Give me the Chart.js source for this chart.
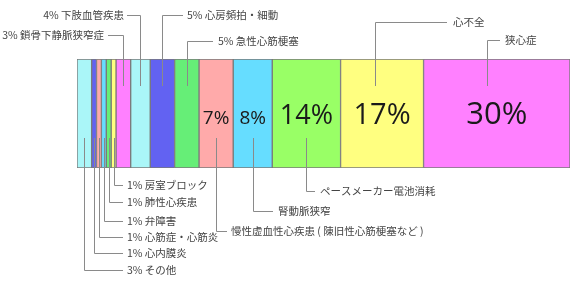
<!DOCTYPE html>
<html>
<head>
<meta charset="utf-8">
<script src="https://cdn.jsdelivr.net/npm/chart.js@4/dist/chart.umd.min.js"></script>
<style>
  html, body { margin: 0; padding: 0; background: #fff; }
  #wrap { width: 576px; height: 283px; }
</style>
</head>
<body>
<div id="wrap"><canvas id="chart"></canvas></div>
<script>
// segments, left to right
var categories = ['その他', '心内膜炎', '心筋症・心筋炎', '弁障害', '肺性心疾患', '房室ブロック',
  '鎖骨下静脈狭窄症', '下肢血管疾患', '心房頻拍・細動', '急性心筋梗塞',
  '慢性虚血性心疾患（陳旧性心筋梗塞など）', '腎動脈狭窄', 'ペースメーカー電池消耗', '心不全', '狭心症'];
var values = [3, 1, 1, 1, 1, 1, 3, 4, 5, 5, 7, 8, 14, 17, 30];
var calloutTexts = ['3% その他', '1% 心内膜炎', '1% 心筋症・心筋炎', '1% 弁障害', '1% 肺性心疾患', '1% 房室ブロック',
  '3% 鎖骨下静脈狭窄症', '4% 下肢血管疾患', '5% 心房頻拍・細動', '5% 急性心筋梗塞',
  '慢性虚血性心疾患 ( 陳旧性心筋梗塞など )', '腎動脈狭窄', 'ペースメーカー電池消耗', '心不全', '狭心症'];
var colors = ['#aaf6f8', '#6262f2', '#ffaaaa', '#66ddff', '#66ee77', '#ffff80',
  '#ff80ff', '#aaf6f8', '#6262f2', '#66ee77', '#ffaaaa', '#66ddff', '#99ff66', '#ffff80', '#ff80ff'];

// where each callout text sits and how the leader line runs
var callouts = [
  { side: 'bottom', ty: 270, tx: 127, align: 'left', le: 123 },
  { side: 'bottom', ty: 253, tx: 127, align: 'left', le: 123 },
  { side: 'bottom', ty: 237, tx: 127, align: 'left', le: 123 },
  { side: 'bottom', ty: 221, tx: 127, align: 'left', le: 123 },
  { side: 'bottom', ty: 202, tx: 127, align: 'left', le: 123 },
  { side: 'bottom', ty: 185, tx: 127, align: 'left', le: 123 },
  { side: 'top', ty: 35, tx: 104, align: 'right', le: 108 },
  { side: 'top', ty: 15, tx: 124, align: 'right', le: 127 },
  { side: 'top', ty: 15, tx: 187, align: 'left', le: 183 },
  { side: 'top', ty: 41, tx: 218, align: 'left', le: 213 },
  { side: 'bottom', ty: 231, tx: 231, align: 'left', le: 227 },
  { side: 'bottom', ty: 211, tx: 278, align: 'left', le: 273 },
  { side: 'bottom', ty: 191, tx: 320, align: 'left', le: 315 },
  { side: 'top', ty: 22, tx: 453, align: 'left', le: 447, frac: 0.42 },
  { side: 'top', ty: 40, tx: 505, align: 'left', le: 500, frac: 0.43 }
];
var innerSizes = { 10: 19, 11: 19, 12: 27, 13: 29, 14: 31 };

var datasets = values.map(function(v, i) {
  return {
    label: categories[i],
    data: [v],
    backgroundColor: colors[i],
    borderColor: '#7a7a7a',
    borderWidth: 1,
    borderSkipped: false,
    categoryPercentage: 1,
    barPercentage: 1
  };
});

var calloutPlugin = {
  id: 'callouts',
  afterDatasetsDraw: function(chart) {
    var ctx = chart.ctx;
    var area = chart.chartArea;
    ctx.save();
    chart.data.datasets.forEach(function(ds, i) {
      var bar = chart.getDatasetMeta(i).data[0];
      var x0 = Math.min(bar.base, bar.x), x1 = Math.max(bar.base, bar.x);
      var c = callouts[i];
      var vx = Math.round(x0 + (x1 - x0) * (c.frac || 0.5)) + 0.5;
      var ty = Math.round(c.ty) + 0.5;

      ctx.strokeStyle = '#8a8a8a';
      ctx.lineWidth = 1;
      ctx.beginPath();
      if (c.side === 'top') {
        ctx.moveTo(c.le, ty);
        ctx.lineTo(vx, ty);
        ctx.lineTo(vx, area.top + 27);
      } else {
        ctx.moveTo(vx, area.bottom - 30);
        ctx.lineTo(vx, ty);
        ctx.lineTo(c.le, ty);
      }
      ctx.stroke();

      ctx.fillStyle = '#444';
      ctx.font = '10.5px "Noto Sans CJK JP"';
      ctx.textAlign = c.align;
      ctx.textBaseline = 'middle';
      ctx.fillText(calloutTexts[i], c.tx, c.ty);

      if (innerSizes[i]) {
        ctx.fillStyle = '#1a1a1a';
        ctx.font = innerSizes[i] + 'px "Open Sans"';
        ctx.textAlign = 'center';
        ctx.textBaseline = 'alphabetic';
        ctx.fillText(values[i] + '%', (x0 + x1) / 2, 124);
      }
    });
    ctx.restore();
  }
};

new Chart(document.getElementById('chart').getContext('2d'), {
  type: 'bar',
  data: { labels: [''], datasets: datasets },
  options: {
    indexAxis: 'y',
    responsive: true,
    maintainAspectRatio: false,
    animation: false,
    layout: { padding: { left: 77, right: 6, top: 59, bottom: 115 } },
    plugins: { legend: { display: false }, tooltip: { enabled: false } },
    scales: {
      x: { stacked: true, min: 0, max: 101, display: false },
      y: { stacked: true, display: false }
    }
  },
  plugins: [calloutPlugin]
});
</script>
</body>
</html>
